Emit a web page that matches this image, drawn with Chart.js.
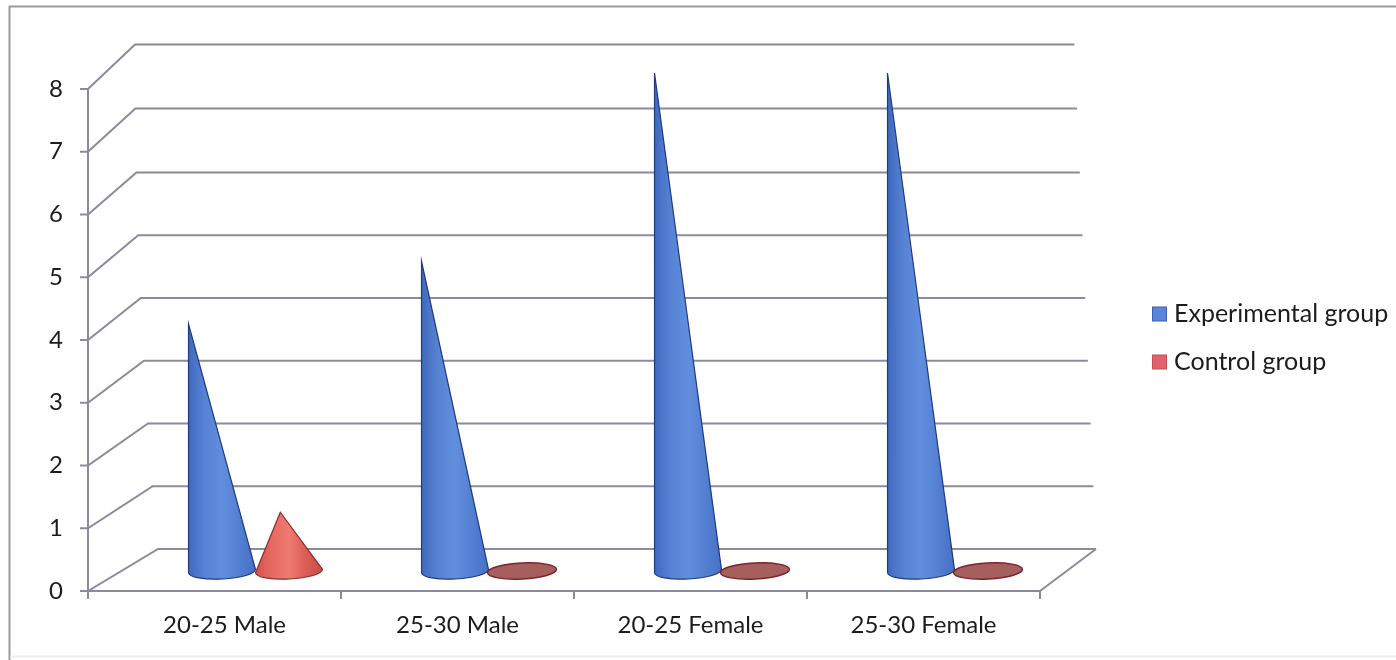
<!DOCTYPE html>
<html>
<head>
<meta charset="utf-8">
<title>Experimental and control group</title>
<script src="https://cdn.jsdelivr.net/npm/chart.js@4/dist/chart.umd.min.js"></script>
<style>
  html, body { margin: 0; padding: 0; background: #fff; }
  canvas { display: block; }
</style>
</head>
<body>
<canvas id="cones" width="1396" height="660"></canvas>
<script>
const categories = ['20-25 Male', '25-30 Male', '20-25 Female', '25-30 Female']
const experimental = [4, 5, 8, 8]
const control = [1, 0, 0, 0]
const yTicks = [0, 1, 2, 3, 4, 5, 6, 7, 8]

const lineColor = '#8b8a9e'
const textColor = '#1c1c1c'
const fontFamily = 'Lato'
const axisLeft = 88

// where a cone stands on the floor, relative to its bar slot
const depthX = 31
const depthY = -20
const apexDepthY = -16

// back wall of the fake 3D box
function backY(pixel, v) { return pixel - 42 - Math.max(0, v - 6) * 1.2 }
function backLeft(v) { return 135 + (8 - v) * (8 - v) * 0.36 }
function backRight(v) { return 1096 - v * 2.7 }

function drawBox(chart) {
  const ctx = chart.ctx
  const y = chart.scales.y
  const x = chart.scales.x
  const bottom = y.getPixelForValue(0)
  ctx.save()

  // page frame
  ctx.strokeStyle = '#9a98a8'
  ctx.lineWidth = 2
  ctx.beginPath()
  ctx.moveTo(9.5, 660)
  ctx.lineTo(9.5, 6.5)
  ctx.lineTo(1396, 6.5)
  ctx.stroke()
  ctx.strokeStyle = '#eeeeee'
  ctx.beginPath()
  ctx.moveTo(10, 656.5)
  ctx.lineTo(1396, 656.5)
  ctx.stroke()

  ctx.strokeStyle = lineColor
  yTicks.forEach(v => {
    const py = y.getPixelForValue(v)
    ctx.beginPath()
    ctx.moveTo(axisLeft - 8, py)
    ctx.lineTo(axisLeft, py)
    ctx.lineTo(backLeft(v), backY(py, v))
    ctx.lineTo(backRight(v), backY(py, v))
    ctx.stroke()
  })

  // y axis, the stretch of x axis left of the first band, right edge of the floor
  ctx.beginPath()
  ctx.moveTo(axisLeft, y.getPixelForValue(8))
  ctx.lineTo(axisLeft, bottom + 8)
  ctx.moveTo(axisLeft, bottom)
  ctx.lineTo(x.left, bottom)
  ctx.moveTo(x.right, bottom)
  ctx.lineTo(backRight(0), backY(bottom, 0))
  ctx.stroke()
  ctx.restore()
}

function drawCone(ctx, bar, value, ds) {
  const w = bar.width
  const cx = bar.x + depthX
  const cy = bar.base + depthY
  const rx = w / 2
  const ry = 8
  const tilt = -0.05

  if (value === 0) {
    // zero value: only the flat base is left
    ctx.beginPath()
    ctx.ellipse(cx, cy, rx + 1, ry, tilt, 0, Math.PI * 2)
    ctx.fillStyle = '#a65f5c'
    ctx.fill()
    ctx.strokeStyle = '#7e2230'
    ctx.lineWidth = 1.5
    ctx.stroke()
    return
  }

  const grad = ctx.createLinearGradient(cx - rx, 0, cx + rx, 0)
  ds.coneColors.forEach((c, i) => grad.addColorStop(i / (ds.coneColors.length - 1), c))
  ctx.beginPath()
  ctx.moveTo(cx + ds.coneLean * w, bar.y + apexDepthY)
  ctx.lineTo(cx + rx * Math.cos(tilt), cy + rx * Math.sin(tilt))
  ctx.ellipse(cx, cy, rx, ry, tilt, 0, Math.PI)
  ctx.closePath()
  ctx.fillStyle = grad
  ctx.fill()
  ctx.strokeStyle = ds.coneOutline
  ctx.lineWidth = 1.2
  ctx.stroke()
}

// legend sits far from the box, so it is placed by hand
function drawLegend(chart) {
  const ctx = chart.ctx
  ctx.save()
  ctx.font = '25px ' + fontFamily
  ctx.textBaseline = 'middle'
  chart.data.datasets.forEach((ds, i) => {
    const rowY = 314 + i * 48
    ctx.fillStyle = ds.backgroundColor
    ctx.fillRect(1152.5, rowY - 7, 14, 14)
    ctx.strokeStyle = ds.borderColor
    ctx.lineWidth = 1
    ctx.strokeRect(1152.5, rowY - 7, 14, 14)
    ctx.fillStyle = textColor
    ctx.fillText(ds.label, 1174, rowY)
  })
  ctx.restore()
}

const coneBox = {
  id: 'coneBox',
  beforeDatasetsDraw(chart) {
    drawBox(chart)
    chart.data.datasets.forEach((ds, i) => {
      chart.getDatasetMeta(i).data.forEach((bar, j) => {
        drawCone(chart.ctx, bar, ds.data[j], ds)
      })
    })
    drawLegend(chart)
    return false
  }
}

new Chart(document.getElementById('cones'), {
  type: 'bar',
  data: {
    labels: categories,
    datasets: [
      {
        label: 'Experimental group',
        data: experimental,
        backgroundColor: '#5b86d8',
        borderColor: '#3f5fa8',
        coneLean: -0.5,
        coneColors: ['#4069bd', '#5783d5', '#628ede', '#5380d2', '#4770c4'],
        coneOutline: '#1f3a80'
      },
      {
        label: 'Control group',
        data: control,
        backgroundColor: '#e0626a',
        borderColor: '#c05058',
        coneLean: -0.13,
        coneColors: ['#d4534c', '#e66a62', '#ee7a72', '#dc5d55', '#c84e46'],
        coneOutline: '#8c2c30'
      }
    ]
  },
  options: {
    responsive: false,
    animation: false,
    categoryPercentage: 0.575,
    barPercentage: 1,
    layout: { padding: { top: 89, right: 356, left: 0, bottom: 0 } },
    plugins: {
      title: { display: false },
      tooltip: { enabled: false },
      legend: { display: false }
    },
    scales: {
      x: {
        offset: true,
        grid: {
          offset: true,
          drawOnChartArea: false,
          color: lineColor,
          tickColor: c => c.index === 0 ? 'transparent' : lineColor,
          lineWidth: 2,
          tickLength: 8
        },
        border: { color: lineColor, width: 2 },
        ticks: { color: textColor, padding: 12, maxRotation: 0, font: { family: fontFamily, size: 24 } },
        afterFit(scale) { scale.height = 69 }
      },
      y: {
        min: 0,
        max: 8,
        afterBuildTicks(scale) { scale.ticks = yTicks.map(v => ({ value: v })) },
        grid: { display: false, drawTicks: false },
        border: { display: false },
        ticks: { color: textColor, padding: 45, font: { family: fontFamily, size: 24 } },
        afterFit(scale) { scale.width = 108 }
      }
    }
  },
  plugins: [coneBox]
})
</script>
</body>
</html>
